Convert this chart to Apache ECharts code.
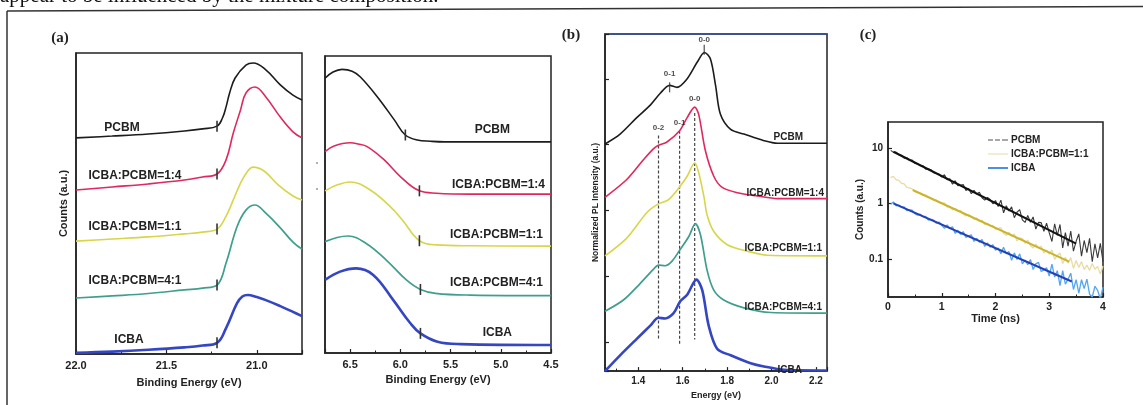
<!DOCTYPE html>
<html>
<head>
<meta charset="utf-8">
<script src="https://cdn.jsdelivr.net/npm/echarts@6/dist/echarts.min.js"></script>
<style>
  html, body { margin: 0; padding: 0; background: #fff; }
  #chart { width: 1143px; height: 405px; }
</style>
</head>
<body>
<div id="chart"></div>
<script>
// ---------- (a) UPS secondary-electron cutoff: [binding energy eV, counts a.u.] ----------
const cutoffPCBM = [[22.0,71.8],[21.8,72.4],[21.6,73.1],[21.4,74.1],[21.3,74.8],[21.22,75.7],[21.19,78.4],[21.17,82.1],[21.15,86.8],[21.12,91.7],[21.06,96.0],[21.02,96.7],[20.95,94.4],[20.87,89.4],[20.8,86.0],[20.75,84.4]];
const cutoffR14  = [[22.0,54.5],[21.8,55.5],[21.6,56.5],[21.4,57.8],[21.3,58.8],[21.22,59.8],[21.17,64.5],[21.13,73.4],[21.09,81.1],[21.06,86.7],[21.01,88.7],[20.95,85.4],[20.87,78.7],[20.8,73.8],[20.75,71.8]];
const cutoffR11  = [[22.0,37.5],[21.8,38.2],[21.6,38.9],[21.4,39.9],[21.3,40.5],[21.22,41.5],[21.17,45.8],[21.13,51.2],[21.09,56.8],[21.05,60.8],[21.02,62.1],[20.96,60.8],[20.88,56.1],[20.8,52.5],[20.75,51.2]];
const cutoffR41  = [[22.0,18.6],[21.8,19.3],[21.6,20.1],[21.4,21.3],[21.3,21.9],[21.22,22.9],[21.17,30.2],[21.11,42.2],[21.06,47.8],[21.01,49.5],[20.95,46.8],[20.87,41.9],[20.8,37.2],[20.75,34.9]];
const cutoffICBA = [[22.0,0.4],[21.8,0.8],[21.6,1.4],[21.4,2.2],[21.3,2.8],[21.22,3.7],[21.17,8.6],[21.11,16.8],[21.08,19.1],[21.05,19.6],[21.0,18.9],[20.95,17.9],[20.87,15.9],[20.8,14.0],[20.75,12.6]];
const cutoffMarkE = [21.22, 21.22, 21.22, 21.22, 21.22];

// ---------- (a) UPS HOMO onset region ----------
const homoPCBM = [[6.75,92.5],[6.67,94.6],[6.58,95.5],[6.48,94.9],[6.4,93.0],[6.23,86.3],[6.06,78.5],[5.95,73.4],[5.83,71.7],[5.7,71.3],[5.56,71.1],[5.0,71.1],[4.5,71.1]];
const homoR14  = [[6.75,67.8],[6.66,69.7],[6.5,70.8],[6.42,70.4],[6.33,69.5],[6.16,65.0],[6.0,59.4],[5.81,54.6],[5.64,53.8],[5.3,53.5],[4.5,53.5]];
const homoR11  = [[6.75,54.6],[6.62,56.7],[6.5,57.6],[6.3,54.9],[6.1,49.3],[5.98,44.8],[5.81,37.8],[5.64,36.4],[5.3,36.1],[4.5,36.0]];
const homoR41  = [[6.75,37.5],[6.63,38.9],[6.52,39.4],[6.34,36.9],[6.14,31.3],[5.94,24.6],[5.8,21.4],[5.65,20.1],[5.3,19.5],[4.5,19.3]];
const homoICBA = [[6.75,24.6],[6.6,27.4],[6.44,28.5],[6.27,26.3],[6.07,17.8],[5.9,10.0],[5.8,6.6],[5.63,3.8],[5.4,3.0],[4.5,2.7]];
const homoMarkE = [5.95, 5.81, 5.81, 5.8, 5.8];

// ---------- (b) normalized PL spectra (offset): [energy eV, intensity a.u.] ----------
const plPCBM = [[1.25,3.01],[1.318,3.16],[1.393,3.41],[1.454,3.60],[1.499,3.78],[1.541,3.90],[1.574,3.87],[1.62,4.0],[1.665,4.25],[1.698,4.40],[1.725,4.30],[1.748,3.90],[1.77,3.46],[1.816,3.23],[1.876,3.16],[1.966,3.06],[2.027,3.02],[2.25,3.02]];
const plR14  = [[1.25,2.20],[1.348,2.47],[1.423,2.77],[1.469,2.94],[1.491,2.99],[1.529,3.04],[1.586,3.21],[1.62,3.41],[1.654,3.57],[1.672,3.46],[1.702,2.91],[1.74,2.52],[1.778,2.35],[1.846,2.27],[1.936,2.22],[2.027,2.18],[2.25,2.18]];
const plR11  = [[1.25,1.31],[1.348,1.58],[1.439,1.97],[1.491,2.10],[1.535,2.16],[1.589,2.37],[1.62,2.52],[1.654,2.72],[1.671,2.59],[1.695,2.22],[1.71,1.93],[1.74,1.68],[1.801,1.48],[1.891,1.38],[1.982,1.32],[2.25,1.31]];
const plR41  = [[1.25,0.47],[1.333,0.64],[1.408,0.89],[1.469,1.11],[1.491,1.17],[1.521,1.16],[1.552,1.23],[1.589,1.41],[1.627,1.60],[1.657,1.80],[1.68,1.63],[1.71,1.09],[1.74,0.79],[1.785,0.64],[1.876,0.52],[1.997,0.45],[2.25,0.44]];
const plICBA = [[1.25,-0.44],[1.318,-0.20],[1.393,0.05],[1.454,0.25],[1.491,0.37],[1.521,0.36],[1.559,0.44],[1.589,0.62],[1.62,0.72],[1.662,0.95],[1.688,0.79],[1.717,0.25],[1.755,-0.10],[1.816,-0.20],[1.906,-0.32],[1.966,-0.37],[2.057,-0.42],[2.25,-0.43]];
// vibronic guide lines: energy, top, bottom
const vibronicE      = [1.491, 1.586, 1.654];
const vibronicTop    = [3.14, 3.21, 3.48];
const vibronicBottom = [0.04, -0.03, 0.04];
// peak annotations: [energy, intensity, text]
const peakLabels = [[1.697,4.59,'0-0'],[1.541,4.07,'0-1'],[1.491,3.26,'0-2'],[1.586,3.33,'0-1'],[1.654,3.70,'0-0']];
const peakTicks  = [[1.697,4.44],[1.541,3.87]];

// ---------- (c) transient PL decay: time (ns) and counts (a.u.) ----------
const decayTime = [0.05,0.10,0.15,0.20,0.25,0.30,0.35,0.40,0.45,0.50,0.55,0.60,0.65,0.70,0.75,0.80,0.85,0.90,0.95,1.00,
  1.05,1.10,1.15,1.20,1.25,1.30,1.35,1.40,1.45,1.50,1.55,1.60,1.65,1.70,1.75,1.80,1.85,1.90,1.95,2.00,
  2.05,2.10,2.15,2.20,2.25,2.30,2.35,2.40,2.45,2.50,2.55,2.60,2.65,2.70,2.75,2.80,2.85,2.90,2.95,3.00,
  3.05,3.10,3.15,3.20,3.25,3.30,3.35,3.40,3.45,3.50,3.55,3.60,3.65,3.70,3.75,3.80,3.85,3.90,3.95,4.00];
const decayPCBM = [9.0,8.26,8.38,7.53,7.37,6.49,6.64,5.97,6.01,5.23,5.19,4.75,4.76,4.14,4.18,4.04,3.55,3.45,3.37,2.97,
  3.27,2.67,2.77,2.21,2.56,2.07,2.12,2.19,1.70,1.85,1.49,1.71,1.47,1.58,1.26,1.14,1.28,1.17,0.98,1.12,
  0.871,1.14,0.675,0.904,0.729,0.866,0.552,0.690,0.769,0.502,0.452,0.606,0.455,0.567,0.344,0.453,0.449,0.313,0.438,0.293,
  0.205,0.426,0.265,0.416,0.157,0.296,0.169,0.317,0.137,0.207,0.281,0.112,0.214,0.129,0.234,0.089,0.186,0.104,0.190,0.089];
const decayR11 = [2.91,3.05,2.67,2.59,2.30,2.25,1.93,1.89,1.82,1.63,1.58,1.54,1.387,1.409,1.277,1.248,1.126,1.140,1.032,1.006,
  1.013,0.853,0.883,0.760,0.814,0.728,0.749,0.642,0.592,0.626,0.583,0.515,0.547,0.476,0.499,0.412,0.435,0.393,0.400,0.338,
  0.355,0.364,0.287,0.266,0.302,0.255,0.279,0.210,0.239,0.232,0.189,0.218,0.174,0.157,0.183,0.157,0.169,0.127,0.144,0.121,
  0.145,0.098,0.115,0.127,0.082,0.107,0.083,0.105,0.067,0.093,0.070,0.089,0.064,0.077,0.062,0.082,0.065,0.073,0.053,0.074];
const decayICBA = [0.957,1.058,0.897,0.932,0.853,0.860,0.742,0.758,0.751,0.652,0.613,0.638,0.573,0.584,0.498,0.515,0.496,0.437,0.460,0.402,
  0.353,0.410,0.353,0.379,0.287,0.327,0.274,0.309,0.242,0.260,0.270,0.206,0.234,0.199,0.222,0.167,0.194,0.162,0.180,0.143,
  0.157,0.124,0.161,0.123,0.135,0.094,0.128,0.097,0.123,0.081,0.095,0.078,0.097,0.064,0.081,0.086,0.059,0.063,0.069,0.049,
  0.080,0.047,0.061,0.033,0.061,0.035,0.043,0.055,0.028,0.042,0.024,0.042,0.029,0.043,0.023,0.0205,0.032,0.027,0.019,0.031];
// single-exponential fits (end points)
const fitPCBM = [[0.1,8.5],[3.5,0.188]];
const fitR11  = [[0.46,1.74],[3.37,0.089]];
const fitICBA = [[0.1,1.0],[3.42,0.039]];

const sampleNames = ['PCBM','ICBA:PCBM=1:4','ICBA:PCBM=1:1','ICBA:PCBM=4:1','ICBA'];

// ---------- styling ----------
const FONT = '"Liberation Sans", Arial, sans-serif';
const INK = '#222';
const COL = { pcbm: '#1c1c1c', r14: '#e0285e', r11: '#d6d64c', r41: '#3f9e8c', icba: '#3446c2' };
const curveColors = [COL.pcbm, COL.r14, COL.r11, COL.r41, COL.icba];
const curveWidths = [1.6, 1.6, 1.6, 1.7, 2.6];

function xAxisBase(grid, extra) {
  return Object.assign({
    type: 'value', gridIndex: grid, splitLine: { show: false },
    axisLine: { show: true, onZero: false, lineStyle: { color: INK, width: 1.5 } },
    axisTick: { show: true, inside: true, length: 4, lineStyle: { color: INK, width: 1.2 } },
    minorTick: { show: true, splitNumber: 2, length: 2.5, lineStyle: { color: INK, width: 1 } },
    axisLabel: { color: INK, fontFamily: FONT, fontWeight: 'bold', fontSize: 11, margin: 6 },
    nameLocation: 'middle',
    nameTextStyle: { color: INK, fontFamily: FONT, fontWeight: 'bold', fontSize: 11 }
  }, extra);
}
function yAxisBase(grid, extra) {
  return Object.assign({
    type: 'value', gridIndex: grid, splitLine: { show: false },
    axisLine: { show: true, onZero: false, lineStyle: { color: INK, width: 1.5 } },
    axisTick: { show: false },
    axisLabel: { show: false },
    nameLocation: 'middle', nameRotate: 90,
    nameTextStyle: { color: INK, fontFamily: FONT, fontWeight: 'bold', fontSize: 11 }
  }, extra);
}

const series = [];

function addCurves(prefix, sets, axisIdx, markE, smooth) {
  sets.forEach((data, i) => {
    const s = {
      type: 'line', name: prefix + ' ' + sampleNames[i], xAxisIndex: axisIdx, yAxisIndex: axisIdx,
      data: data, showSymbol: false, symbol: 'none', smooth: smooth, silent: true,
      lineStyle: { color: curveColors[i], width: curveWidths[i] }, itemStyle: { color: curveColors[i] }, z: 3
    };
    if (markE) {
      const pt = data.find(p => p[0] === markE[i]);
      s.markPoint = {
        symbol: 'rect', symbolSize: [1.6, 11], silent: true,
        itemStyle: { color: '#333' }, label: { show: false },
        data: [{ coord: pt }]
      };
    }
    series.push(s);
  });
}

addCurves('cutoff', [cutoffPCBM, cutoffR14, cutoffR11, cutoffR41, cutoffICBA], 0, cutoffMarkE, 0.4);
addCurves('homo', [homoPCBM, homoR14, homoR11, homoR41, homoICBA], 1, homoMarkE, 0.4);
addCurves('pl', [plPCBM, plR14, plR11, plR41, plICBA], 2, null, 0.3);

// vibronic dashed guides in (b)
vibronicE.forEach((e, i) => {
  series.push({
    type: 'line', name: 'guide ' + i, xAxisIndex: 2, yAxisIndex: 2, silent: true,
    data: [[e, vibronicTop[i]], [e, vibronicBottom[i]]], showSymbol: false, symbol: 'none',
    lineStyle: { color: '#444', width: 1.2, type: [3, 2] }, z: 2
  });
});
series.push({
  type: 'scatter', name: 'peak labels', xAxisIndex: 2, yAxisIndex: 2, silent: true,
  data: peakLabels.map(p => ({ value: [p[0], p[1]], name: p[2] })),
  symbol: 'circle', symbolSize: 1, itemStyle: { color: 'rgba(0,0,0,0)' },
  label: { show: true, position: 'inside', formatter: '{b}', color: INK, fontFamily: FONT, fontWeight: 'bold', fontSize: 8 },
  z: 5
});
series.push({
  type: 'scatter', name: 'peak ticks', xAxisIndex: 2, yAxisIndex: 2, silent: true,
  data: peakTicks, symbol: 'rect', symbolSize: [1.3, 10], itemStyle: { color: '#333' }, z: 5
});

// (c) decay traces and fits
const zip = vals => decayTime.map((t, i) => [t, vals[i]]);
series.push(
  { type: 'line', name: 'ICBA:PCBM=1:1', xAxisIndex: 3, yAxisIndex: 3, data: zip(decayR11), showSymbol: false, symbol: 'none',
    lineStyle: { color: '#e8dba6', width: 1.3 }, itemStyle: { color: '#e8dba6' }, silent: true, z: 2 },
  { type: 'line', name: 'ICBA', xAxisIndex: 3, yAxisIndex: 3, data: zip(decayICBA), showSymbol: false, symbol: 'none',
    lineStyle: { color: '#55a6f2', width: 1.3 }, itemStyle: { color: '#55a6f2' }, silent: true, z: 2 },
  { type: 'line', name: 'PCBM', xAxisIndex: 3, yAxisIndex: 3, data: zip(decayPCBM), showSymbol: false, symbol: 'none',
    lineStyle: { color: '#3a3a3a', width: 1.1 }, itemStyle: { color: '#3a3a3a' }, silent: true, z: 3 },
  { type: 'line', name: 'fit PCBM', xAxisIndex: 3, yAxisIndex: 3, data: fitPCBM, showSymbol: false, symbol: 'none',
    lineStyle: { color: '#111', width: 2 }, silent: true, z: 4 },
  { type: 'line', name: 'fit ICBA:PCBM=1:1', xAxisIndex: 3, yAxisIndex: 3, data: fitR11, showSymbol: false, symbol: 'none',
    lineStyle: { color: '#c9b42a', width: 2 }, silent: true, z: 4 },
  { type: 'line', name: 'fit ICBA', xAxisIndex: 3, yAxisIndex: 3, data: fitICBA, showSymbol: false, symbol: 'none',
    lineStyle: { color: '#2540b4', width: 2 }, silent: true, z: 4 }
);

// ---------- text placed on the page ----------
function txt(text, x, y, size, align, family) {
  return {
    type: 'text', x: x, y: y, silent: true, z: 10,
    style: {
      text: text, fill: INK, font: 'bold ' + size + 'px ' + (family || FONT),
      textAlign: align || 'center', align: align || 'center',
      textVerticalAlign: 'middle', verticalAlign: 'middle'
    }
  };
}
function seg(x1, y1, x2, y2, w, c) {
  return { type: 'line', silent: true, z: 10, shape: { x1, y1, x2, y2 }, style: { stroke: c || '#333', lineWidth: w || 1.5 } };
}
const SERIF = '"Liberation Serif", "DejaVu Serif", serif';

const graphic = [
  { type: 'text', x: 0, y: 7, silent: true, z: 10,
    style: { text: 'appear to be influenced by the mixture composition.', fill: '#111',
      font: '21px ' + SERIF, textAlign: 'left', align: 'left', textVerticalAlign: 'bottom', verticalAlign: 'bottom' } },
  seg(7, 11, 1143, 6.5, 1.5, '#333'),
  seg(7, 11, 7, 405, 1.5, '#333'),
  txt('(a)', 60, 38, 15, 'center', SERIF),
  txt('(b)', 571, 35, 15, 'center', SERIF),
  txt('(c)', 868, 35, 15, 'center', SERIF),
  // (a) cutoff labels
  txt('PCBM', 122, 128, 12), txt('ICBA:PCBM=1:4', 135, 176, 12), txt('ICBA:PCBM=1:1', 135, 227, 12),
  txt('ICBA:PCBM=4:1', 135, 281, 12), txt('ICBA', 129, 340, 12),
  // (a) HOMO labels
  txt('PCBM', 510, 130, 12, 'right'), txt('ICBA:PCBM=1:4', 545, 185, 12, 'right'), txt('ICBA:PCBM=1:1', 543, 235, 12, 'right'),
  txt('ICBA:PCBM=4:1', 543, 283, 12, 'right'), txt('ICBA', 512, 333, 12, 'right'),
  // (b) labels
  txt('PCBM', 803, 137, 10, 'right'), txt('ICBA:PCBM=1:4', 824, 193, 10, 'right'), txt('ICBA:PCBM=1:1', 822, 248, 10, 'right'),
  txt('ICBA:PCBM=4:1', 822, 307, 10, 'right'), txt('ICBA', 802, 370, 10, 'right'),
  // specks between the (a) panels
  { type: 'circle', silent: true, shape: { cx: 317, cy: 163, r: 1 }, style: { fill: '#999' } },
  { type: 'circle', silent: true, shape: { cx: 317, cy: 189, r: 1 }, style: { fill: '#999' } }
];

const option = {
  animation: false,
  backgroundColor: '#fff',
  textStyle: { fontFamily: FONT },
  grid: [
    { left: 76, top: 53, width: 226, height: 301, show: true, borderColor: INK, borderWidth: 1.5 },
    { left: 325, top: 56, width: 226, height: 297, show: true, borderColor: INK, borderWidth: 1.5 },
    { left: 605, top: 34, width: 222, height: 346, show: true, borderColor: INK, borderWidth: 1.5 },
    { left: 888, top: 122, width: 215, height: 175, show: true, borderColor: INK, borderWidth: 1.5 }
  ],
  xAxis: [
    xAxisBase(0, { min: 20.75, max: 22.0, inverse: true, splitNumber: 3, name: 'Binding Energy (eV)', nameGap: 23,
      axisLabel: { color: INK, fontFamily: FONT, fontWeight: 'bold', fontSize: 11, margin: 6, showMinLabel: false,
        formatter: v => v.toFixed(1) } }),
    xAxisBase(1, { min: 4.5, max: 6.75, inverse: true, splitNumber: 4, name: 'Binding Energy (eV)', nameGap: 21,
      axisLabel: { color: INK, fontFamily: FONT, fontWeight: 'bold', fontSize: 11, margin: 6, showMaxLabel: false,
        formatter: v => v.toFixed(1) } }),
    xAxisBase(2, { min: 1.25, max: 2.25, splitNumber: 5, name: 'Energy (eV)', nameGap: 13,
      nameTextStyle: { color: INK, fontFamily: FONT, fontWeight: 'bold', fontSize: 9 },
      axisLabel: { color: INK, fontFamily: FONT, fontWeight: 'bold', fontSize: 10, margin: 5, showMinLabel: false, showMaxLabel: false,
        formatter: v => v.toFixed(1) } }),
    xAxisBase(3, { min: 0, max: 4, interval: 1, name: 'Time (ns)', nameGap: 16,
      axisLabel: { color: INK, fontFamily: FONT, fontWeight: 'bold', fontSize: 10.5, margin: 5 } }),
    { type: 'value', gridIndex: 2, position: 'top', min: 1.25, max: 2.25, splitLine: { show: false },
      axisLine: { show: true, onZero: false, lineStyle: { color: '#34529c', width: 1.5 } }, axisTick: { show: false }, axisLabel: { show: false } }
  ],
  yAxis: [
    yAxisBase(0, { min: 0, max: 100, name: 'Counts (a.u.)', nameGap: 7 }),
    yAxisBase(1, { min: 0, max: 100 }),
    yAxisBase(2, { min: -0.44, max: 4.68, name: 'Normalized PL Intensity (a.u.)', nameGap: 5,
      nameTextStyle: { color: INK, fontFamily: FONT, fontWeight: 'bold', fontSize: 8.5 },
      axisTick: { show: true, inside: true, length: 4, lineStyle: { color: INK, width: 1.2 } } }),
    yAxisBase(3, { type: 'log', logBase: 10, min: 0.0205, max: 29.2, name: 'Counts (a.u.)', nameGap: 22,
      nameTextStyle: { color: INK, fontFamily: FONT, fontWeight: 'bold', fontSize: 10 },
      axisTick: { show: true, inside: true, length: 4, lineStyle: { color: INK, width: 1.2 } },
      axisLabel: { show: true, color: INK, fontFamily: FONT, fontWeight: 'bold', fontSize: 10, margin: 5,
        showMinLabel: false, showMaxLabel: false,
        formatter: v => (Math.abs(v - 10) < 1e-6 ? '10' : Math.abs(v - 1) < 1e-6 ? '1' : Math.abs(v - 0.1) < 1e-7 ? '0.1' : '') } })
  ],
  legend: {
    orient: 'vertical', left: 983, top: 130, itemWidth: 20, itemHeight: 2, itemGap: 4,
    selectedMode: false, icon: 'rect',
    textStyle: { color: INK, fontFamily: FONT, fontWeight: 'bold', fontSize: 10, padding: [0, 0, 0, -2] },
    data: [
      { name: 'PCBM', icon: 'path://M0,0h5v2h-5z M7,0h5v2h-5z M14,0h6v2h-6z', itemStyle: { color: '#a8a8a8' } },
      { name: 'ICBA:PCBM=1:1', itemStyle: { color: '#f2eed6' } },
      { name: 'ICBA', itemStyle: { color: '#4a90e2' } }
    ]
  },
  graphic: graphic,
  series: series
};

const chart = echarts.init(document.getElementById('chart'), null, { renderer: 'canvas' });
chart.setOption(option);
</script>
</body>
</html>
